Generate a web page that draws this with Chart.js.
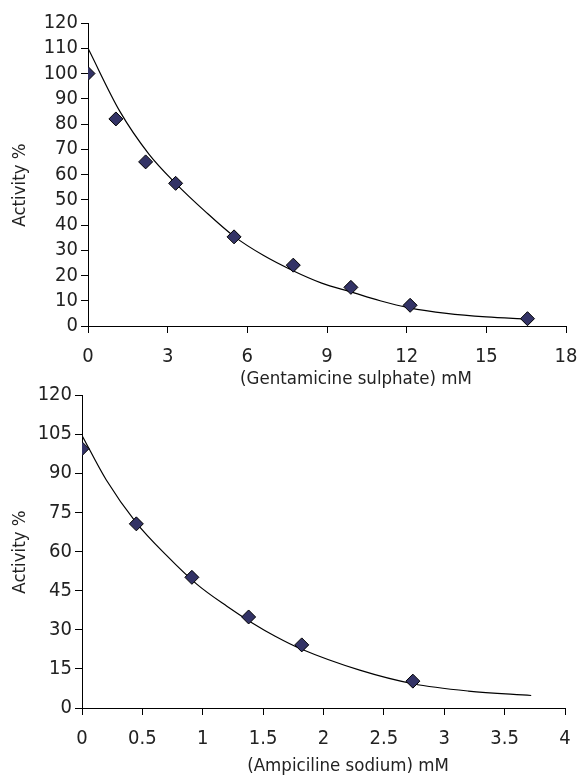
<!DOCTYPE html>
<html>
<head>
<meta charset="utf-8">
<script src="https://cdn.jsdelivr.net/npm/chart.js@4.4.1/dist/chart.umd.min.js"></script>
<style>
  body { margin: 0; background: #fff; }
  .wrap { position: absolute; left: 0; width: 581px; }
  #wrapTop { top: 0; height: 392px; }
  #wrapBot { top: 380px; height: 395px; }
</style>
</head>
<body>
<div class="wrap" id="wrapTop"><canvas id="chartGent"></canvas></div>
<div class="wrap" id="wrapBot"><canvas id="chartAmp"></canvas></div>
<script>
// ---- data: gentamicine sulphate (top) ----
var gentX = [0, 1.05, 2.17, 3.3, 5.5, 7.73, 9.9, 12.13, 16.55];
var gentY = [100, 82, 65, 56.5, 35.3, 24.1, 15.3, 8.2, 2.9];
// trend curve
var gentFitX = [0, 1.2, 2.3, 3.3, 4.4, 5.5, 6.6, 7.7, 8.8, 9.9, 11, 12.1, 13.5, 15, 16.5];
var gentFitY = [110, 85, 68, 56.5, 45.5, 35.5, 28, 22, 17, 13.5, 10, 7.2, 5, 3.6, 2.8];
var gentXTicks = [0, 3, 6, 9, 12, 15, 18];
var gentYTicks = [0, 10, 20, 30, 40, 50, 60, 70, 80, 90, 100, 110, 120];

// ---- data: ampiciline sodium (bottom) ----
var ampX = [0, 0.45, 0.91, 1.38, 1.82, 2.74];
var ampY = [99.4, 70.6, 50.1, 34.9, 24.2, 10.3];
var ampFitX = [0, 0.2, 0.45, 0.7, 0.95, 1.2, 1.41, 1.6, 1.82, 2.3, 2.74, 3.2, 3.72];
var ampFitY = [104.5, 87.5, 71, 58.5, 47.5, 39, 32.6, 27.5, 22.5, 14.5, 9.3, 6.5, 4.8];
var ampXTicks = [0, 0.5, 1, 1.5, 2, 2.5, 3, 3.5, 4];
var ampYTicks = [0, 15, 30, 45, 60, 75, 90, 105, 120];

var FONT = "'DejaVu Sans Condensed', 'Liberation Sans', sans-serif";
var MARK = '#333366';
var TXT = '#222';

function pts(xs, ys) {
  return xs.map(function (x, i) { return { x: x, y: ys[i] }; });
}

// axis titles drawn by hand so they can sit off-centre like the original
var axisTitles = {
  id: 'axisTitles',
  afterDraw: function (chart, args, o) {
    var ctx = chart.ctx;
    ctx.save();
    ctx.fillStyle = TXT;
    ctx.font = o.size + 'px ' + FONT;
    ctx.textAlign = 'center';
    ctx.textBaseline = 'middle';
    ctx.fillText(o.xText, o.xPos[0], o.xPos[1]);
    ctx.translate(o.yPos[0], o.yPos[1]);
    ctx.rotate(-Math.PI / 2);
    ctx.fillText(o.yText, 0, 0);
    ctx.restore();
  }
};

function makeChart(id, cfg) {
  var axisBase = {
    border: { color: '#000', width: 1 },
    grid: { drawOnChartArea: false, color: '#000', tickLength: 7, tickWidth: 1 },
    title: { display: false }
  };
  var tickBase = {
    color: TXT, font: { family: FONT, size: 20 }, autoSkip: false, maxRotation: 0,
    callback: function (v) { return '' + v; }
  };
  return new Chart(document.getElementById(id), {
    type: 'scatter',
    plugins: [axisTitles],
    data: {
      datasets: [{
        data: pts(cfg.x, cfg.y),
        pointStyle: 'rectRot',
        pointRadius: 7,
        pointBackgroundColor: MARK,
        pointBorderColor: '#000',
        pointBorderWidth: 1,
        order: 1
      }, {
        data: pts(cfg.fitX, cfg.fitY),
        showLine: true,
        borderColor: '#000',
        borderWidth: 1.2,
        pointRadius: 0,
        cubicInterpolationMode: 'monotone',
        order: 2
      }]
    },
    options: {
      responsive: true,
      maintainAspectRatio: false,
      animation: false,
      plugins: {
        legend: { display: false },
        tooltip: { enabled: false },
        axisTitles: {
          size: 18.5,
          xText: cfg.xTitle, xPos: cfg.xTitlePos,
          yText: 'Activity %', yPos: cfg.yTitlePos
        }
      },
      layout: { padding: cfg.pad },
      scales: {
        x: Object.assign({}, axisBase, {
          type: 'linear', min: cfg.xTicks[0], max: cfg.xTicks[cfg.xTicks.length - 1],
          afterBuildTicks: function (s) { s.ticks = cfg.xTicks.map(function (v) { return { value: v }; }); },
          afterFit: function (s) {
            s.height = cfg.xh;
            s.paddingLeft = 0;
            s.paddingRight = 0;
          },
          ticks: Object.assign({}, tickBase, { padding: 12 })
        }),
        y: Object.assign({}, axisBase, {
          type: 'linear', min: cfg.yTicks[0], max: cfg.yTicks[cfg.yTicks.length - 1],
          afterBuildTicks: function (s) { s.ticks = cfg.yTicks.map(function (v) { return { value: v }; }); },
          afterFit: function (s) {
            s.width = cfg.yw;
            s.paddingTop = 0;
            s.paddingBottom = 0;
          },
          ticks: Object.assign({}, tickBase, { padding: 3 })
        })
      }
    }
  });
}

makeChart('chartGent', {
  x: gentX, y: gentY, fitX: gentFitX, fitY: gentFitY,
  xTicks: gentXTicks, yTicks: gentYTicks,
  xTitle: '(Gentamicine sulphate) mM',
  xTitlePos: [356, 379], yTitlePos: [20, 185],
  pad: { top: 23, right: 15, left: 0, bottom: 0 },
  yw: 88, xh: 66
});

makeChart('chartAmp', {
  x: ampX, y: ampY, fitX: ampFitX, fitY: ampFitY,
  xTicks: ampXTicks, yTicks: ampYTicks,
  xTitle: '(Ampiciline sodium) mM',
  xTitlePos: [348, 386], yTitlePos: [20, 172],
  pad: { top: 15, right: 16, left: 0, bottom: 0 },
  yw: 82, xh: 67
});
</script>
</body>
</html>
